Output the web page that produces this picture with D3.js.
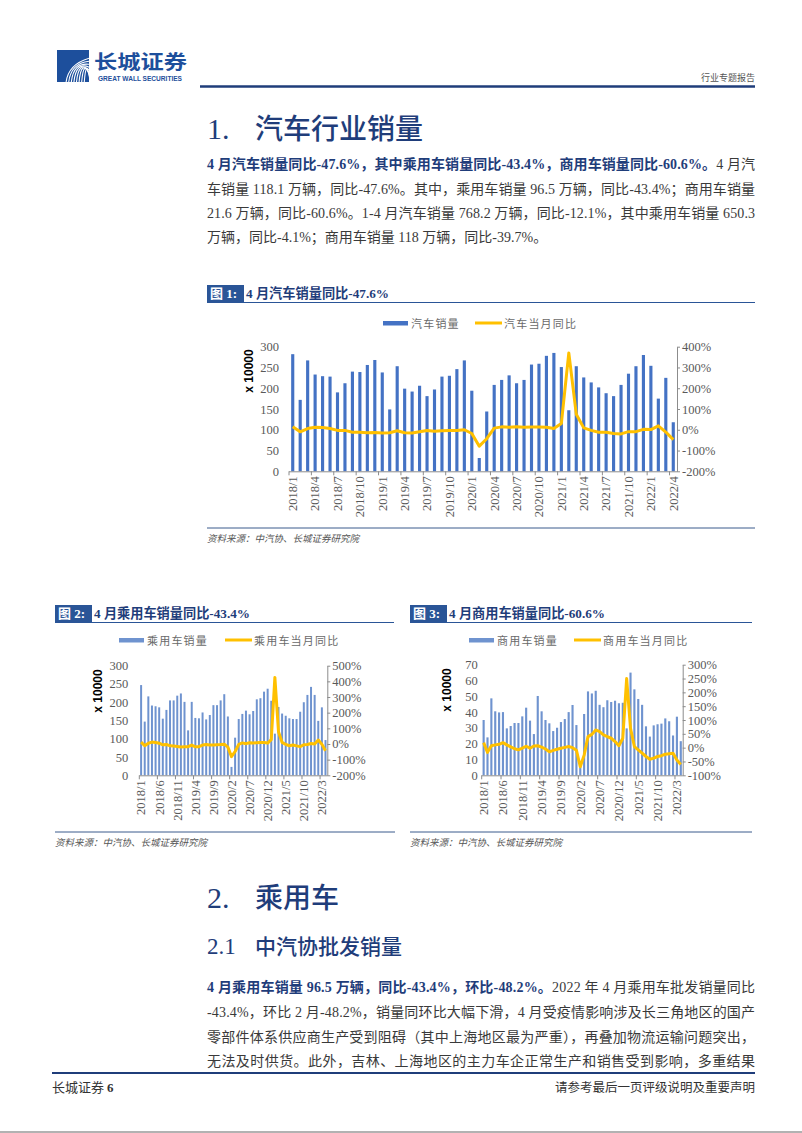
<!DOCTYPE html>
<html><head><meta charset="utf-8">
<script src="https://cdn.jsdelivr.net/npm/d3@7"></script>
<style>body{margin:0;background:#fff;} svg{display:block;}</style>
</head><body>
<svg id="page" width="802" height="1133"></svg>
<script>
// ---------------- DATA ----------------
const months = ["2018/1","2018/2","2018/3","2018/4","2018/5","2018/6","2018/7","2018/8","2018/9","2018/10","2018/11","2018/12",
"2019/1","2019/2","2019/3","2019/4","2019/5","2019/6","2019/7","2019/8","2019/9","2019/10","2019/11","2019/12",
"2020/1","2020/2","2020/3","2020/4","2020/5","2020/6","2020/7","2020/8","2020/9","2020/10","2020/11","2020/12",
"2021/1","2021/2","2021/3","2021/4","2021/5","2021/6","2021/7","2021/8","2021/9","2021/10","2021/11","2021/12",
"2022/1","2022/2","2022/3","2022/4"];
const labels1 = ["2018/1","2018/4","2018/7","2018/10","2019/1","2019/4","2019/7","2019/10","2020/1","2020/4","2020/7","2020/10","2021/1","2021/4","2021/7","2021/10","2022/1","2022/4"];
const labels23 = ["2018/1","2018/6","2018/11","2019/4","2019/9","2020/2","2020/7","2020/12","2021/5","2021/10","2022/3"];

// 汽车销量 (x10000)
const totalSales = [282,172,267,233,229,228,190,212,240,239,256,268,
238,149,253,199,192,206,181,197,228,230,246,267,
194,32,144,208,220,231,212,220,257,259,278,285,
251,147,253,226,214,202,188,181,208,235,253,280,
254,175,225,118.1];
// 汽车当月同比 (%)
const totalYoY = [15,-10,6,12,11,6,-3,-3,-12,-12,-14,-13,
-16,-14,-5,-14,-16,-10,-4,-7,-5,-4,-4,0,
-18,-79,-43,8,14,12,15,12,13,13,12,6,
30,370,75,9,-3,-12,-12,-18,-20,-9,-9,2,
1,19,-11,-47.6];

// 乘用车销量 (x10000)
const pvSales = [247,147,216,191,189,186,155,179,205,205,218,224,
201,123,201,157,156,172,153,165,192,192,205,222,
161,23,103,154,168,177,167,176,208,211,229,237,
204,114,187,169,163,156,154,154,174,200,220,242,
220,149,186,96.5];
// 乘用车当月同比 (%)
const pvYoY = [12,-11,5,12,9,5,-5,-3,-12,-13,-16,-19,
-18,-17,-7,-18,-17,-7,-4,-7,-7,-5,-4,-1,
-20,-81,-48,-2,7,2,8,6,8,10,10,6,
28,425,78,10,-3,-11,-7,-12,-17,-5,-3,3,
0,25,-1,-43.4];

// 商用车销量 (x10000)
const cvSales = [35,24,48.7,40.5,39.8,40,29.7,31.2,33.1,33.1,37.3,42.8,
34.6,26.1,50.2,40.5,35,32.9,28,30.1,33.7,35.6,40,44.5,
31.8,8.6,38.8,53.1,51.8,53.5,44.6,43.1,47.5,46.4,47.2,45.6,
45.9,29.7,65,54.4,48.3,44.6,31,24.5,31.6,32.3,32.7,36,
34.2,25.2,37.1,21.6];
// 商用车当月同比 (%)
const cvYoY = [18,-17,7,10,12,18,10,3,-4,-8,-2,5,
-2,6,7,2,-5,-15,-10,-6,-2,1,4,0,
-9,-69,-27,40,48,64,58,46,40,34,22,7,
34,250,70,4,-8,-20,-32,-42,-38,-32,-29,-24,
-22,-20,-45,-60.6];

const leftTicks1 = [0,50,100,150,200,250,300];
const rightTicks1 = [-200,-100,0,100,200,300,400];
const leftTicks2 = [0,50,100,150,200,250,300];
const rightTicks2 = [-200,-100,0,100,200,300,400,500];
const leftTicks3 = [0,10,20,30,40,50,60,70];
const rightTicks3 = [-100,-50,0,50,100,150,200,250,300];

// ---------------- STYLE ----------------
const svg = d3.select('#page');
const MIX = '"Liberation Serif","Noto Sans CJK SC",serif';
const CJK = '"Noto Sans CJK SC",sans-serif';
const NAVY = '#1f3d7a';
const BOXBLUE = '#2a5597';
const YELLOW = '#FFC000';
const TEXT = '#3a3a3a';

// ---------------- HEADER ----------------
const logo = svg.append('g');
logo.append('clipPath').attr('id','lc').append('rect').attr('x',57).attr('y',50).attr('width',32).attr('height',32);
logo.append('rect').attr('x',57).attr('y',50).attr('width',32).attr('height',32).attr('fill','#1d4f9c');
const lg = logo.append('g').attr('clip-path','url(#lc)');
d3.range(8).forEach(i=>{
  lg.append('path')
    .attr('d',`M${66+i*2.6},83 Q${68+i*2.6},${64-i*1.2} ${90},${58+i*3.2}`)
    .attr('fill','none').attr('stroke','#fff').attr('stroke-width',1.1);
});
svg.append('text').attr('x',94).attr('y',69).attr('font-family',CJK).attr('font-weight',700)
  .attr('font-size',19).attr('fill','#1d4f9c').attr('textLength',93).attr('lengthAdjust','spacingAndGlyphs').text('长城证券');
svg.append('text').attr('x',98).attr('y',81).attr('font-family','"Liberation Sans",sans-serif').attr('font-weight',700)
  .attr('font-size',6.5).attr('fill','#1d4f9c').attr('textLength',84).attr('lengthAdjust','spacingAndGlyphs').text('GREAT WALL SECURITIES');
svg.append('text').attr('x',755).attr('y',81).attr('text-anchor','end').attr('font-family',CJK)
  .attr('font-size',9).attr('fill','#555').text('行业专题报告');
svg.append('line').attr('x1',200).attr('x2',755).attr('y1',86.5).attr('y2',86.5).attr('stroke',NAVY).attr('stroke-width',2.5);

// ---------------- TEXT HELPERS ----------------
function heading(num, title, y, size){
  svg.append('text').attr('x',207).attr('y',y).attr('font-family','"Liberation Serif",serif')
    .attr('font-size',size+2).attr('fill',NAVY).text(num);
  svg.append('text').attr('x',255).attr('y',y).attr('font-family',CJK).attr('font-weight',500)
    .attr('font-size',size).attr('fill',NAVY).text(title);
}
function line(y, parts, justify){
  const t = svg.append('text').attr('x',207).attr('y',y).attr('font-family',MIX).attr('font-size',14).attr('fill',TEXT);
  if (justify) t.attr('textLength',548).attr('lengthAdjust','spacing');
  parts.forEach(p=>{
    const s = t.append('tspan').text(p.t);
    if (p.b) s.attr('font-weight',700).attr('fill',NAVY);
  });
}
function figTitle(x, x2, y, num, title, tl){
  svg.append('rect').attr('x',x).attr('y',y-13).attr('width',37).attr('height',17).attr('fill',BOXBLUE);
  svg.append('text').attr('x',x+3).attr('y',y).attr('font-family',MIX).attr('font-weight',700)
    .attr('font-size',13).attr('fill','#fff').text(num);
  svg.append('text').attr('x',x+39).attr('y',y).attr('font-family',MIX).attr('font-weight',700)
    .attr('font-size',13.5).attr('fill',NAVY).attr('textLength',tl).attr('lengthAdjust','spacingAndGlyphs').text(title);
  svg.append('line').attr('x1',x).attr('x2',x2).attr('y1',y+4.5).attr('y2',y+4.5).attr('stroke',BOXBLUE).attr('stroke-width',1);
}
function source(x, x2, y){
  svg.append('line').attr('x1',x).attr('x2',x2).attr('y1',y).attr('y2',y).attr('stroke','#3b5b8c').attr('stroke-width',1);
  svg.append('text').attr('x',x).attr('y',y+14).attr('font-family',CJK).attr('font-style','italic')
    .attr('font-size',9.5).attr('fill','#555').text('资料来源：中汽协、长城证券研究院');
}

// ---------------- SECTION 1 ----------------
heading('1.', '汽车行业销量', 139, 28);
line(169, [{t:'4 月汽车销量同比-47.6%，其中乘用车销量同比-43.4%，商用车销量同比-60.6%。',b:true},{t:'4 月汽'}], true);
line(194, [{t:'车销量 118.1 万辆，同比-47.6%。其中，乘用车销量 96.5 万辆，同比-43.4%；商用车销量'}], true);
line(218, [{t:'21.6 万辆，同比-60.6%。1-4 月汽车销量 768.2 万辆，同比-12.1%，其中乘用车销量 650.3'}], true);
line(242, [{t:'万辆，同比-4.1%；商用车销量 118 万辆，同比-39.7%。'}], false);

figTitle(207, 755, 298, '图 1:', '4 月汽车销量同比-47.6%', 143);
source(207, 755, 528);
figTitle(55, 394, 618, '图 2:', '4 月乘用车销量同比-43.4%', 156);
figTitle(410, 752, 618, '图 3:', '4 月商用车销量同比-60.6%', 156);
source(55, 395, 832);
source(410, 752, 832);

// ---------------- CHARTS ----------------
function drawChart(c){
  const g = svg.append('g');
  const x = d3.scaleBand().domain(months).range([c.left, c.right]).paddingInner(c.pad).paddingOuter(c.pad/2);
  const step = x.step();
  const yL = d3.scaleLinear().domain(c.lDom).range([c.bottom, c.top]);
  const yR = d3.scaleLinear().domain(c.rDom).range([c.bottom, c.top]);

  // bars
  g.append('g').selectAll('rect').data(c.bars).join('rect')
    .attr('x',(d,i)=>x(months[i])).attr('width',x.bandwidth())
    .attr('y',d=>yL(d)).attr('height',d=>yL(0)-yL(d)).attr('fill',c.barColor);

  // left axis (labels only)
  const la = g.append('g').attr('transform',`translate(${c.left},0)`)
    .call(d3.axisLeft(yL).tickValues(c.lTicks).tickSize(0).tickPadding(c.lPad));
  la.select('.domain').remove();
  la.selectAll('text').attr('font-family','"Liberation Serif",serif').attr('font-size',c.fs).attr('fill','#595959');

  // right axis
  const ra = g.append('g').attr('transform',`translate(${c.right},0)`)
    .call(d3.axisRight(yR).tickValues(c.rTicks).tickSize(3).tickSizeOuter(0).tickPadding(2).tickFormat(d=>d+'%'));
  ra.select('.domain').attr('stroke','#8c8c8c');
  ra.selectAll('line').attr('stroke','#8c8c8c');
  ra.selectAll('text').attr('font-family','"Liberation Serif",serif').attr('font-size',c.fs).attr('fill','#595959');

  // bottom axis
  const ba = g.append('g').attr('transform',`translate(0,${c.bottom})`)
    .call(d3.axisBottom(x).tickValues(c.xLabels).tickSize(0).tickPadding(0));
  ba.select('.domain').attr('stroke','#8c8c8c').attr('d',`M${c.left},0.5H${c.right}`);
  ba.selectAll('text').attr('font-family','"Liberation Serif",serif').attr('font-size',c.fs).attr('fill','#595959')
    .attr('transform','rotate(-90)').attr('x',-5).attr('y',0).attr('dy','0.35em').style('text-anchor','end');
  ba.append('g').selectAll('line').data(c.xLabels).join('line')
    .attr('x1',d=>x(d)-(step-x.bandwidth())/2).attr('x2',d=>x(d)-(step-x.bandwidth())/2)
    .attr('y1',0).attr('y2',4).attr('stroke','#8c8c8c');

  // line
  g.append('path').datum(c.line)
    .attr('d', d3.line().x((d,i)=>x(months[i])+x.bandwidth()/2).y(d=>yR(d)))
    .attr('fill','none').attr('stroke',YELLOW).attr('stroke-width',c.lw).attr('stroke-linejoin','round');

  // y label
  g.append('text').attr('transform',`translate(${c.ylabX},${c.ylabY}) rotate(-90)`)
    .attr('text-anchor','middle').attr('dominant-baseline','central')
    .attr('font-family','"Liberation Sans",sans-serif').attr('font-weight',700).attr('font-size',12).attr('fill','#000')
    .text('x 10000');

  // legend
  const L = c.legend;
  g.append('rect').attr('x',L.rx).attr('y',L.y-2).attr('width',25).attr('height',4.5).attr('fill',c.barColor);
  g.append('text').attr('x',L.rx+28).attr('y',L.y).attr('dominant-baseline','central').attr('font-family',CJK)
    .attr('font-size',11).attr('letter-spacing',1.2).attr('fill','#6a6a6a').text(L.t1);
  g.append('line').attr('x1',L.lx).attr('x2',L.lx+27).attr('y1',L.y).attr('y2',L.y).attr('stroke',YELLOW).attr('stroke-width',3);
  g.append('text').attr('x',L.lx+29).attr('y',L.y).attr('dominant-baseline','central').attr('font-family',CJK)
    .attr('font-size',11).attr('letter-spacing',1.2).attr('fill','#6a6a6a').text(L.t2);
}

drawChart({left:289, right:677, top:346.7, bottom:471.3, pad:0.58,
  bars:totalSales, line:totalYoY, lDom:[0,300], rDom:[-200,400], lTicks:leftTicks1, rTicks:rightTicks1,
  xLabels:labels1, fs:12.5, lPad:10, lw:3, barColor:'#4472c4', ylabX:249, ylabY:371,
  legend:{y:323, rx:383, lx:475, t1:'汽车销量', t2:'汽车当月同比'}});

drawChart({left:139.3, right:327.3, top:665.7, bottom:775.3, pad:0.45,
  bars:pvSales, line:pvYoY, lDom:[0,300], rDom:[-200,500], lTicks:leftTicks2, rTicks:rightTicks2,
  xLabels:labels23, fs:12.5, lPad:11, lw:3, barColor:'#6f93cf', ylabX:98, ylabY:691,
  legend:{y:640, rx:119, lx:225, t1:'乘用车销量', t2:'乘用车当月同比'}});

drawChart({left:481.7, right:682.7, top:664.7, bottom:775.3, pad:0.45,
  bars:cvSales, line:cvYoY, lDom:[0,70], rDom:[-100,300], lTicks:leftTicks3, rTicks:rightTicks3,
  xLabels:labels23, fs:12.5, lPad:4, lw:3, barColor:'#6f93cf', ylabX:447, ylabY:690,
  legend:{y:640, rx:469, lx:574, t1:'商用车销量', t2:'商用车当月同比'}});

// ---------------- SECTION 2 ----------------
heading('2.', '乘用车', 908, 28);
heading('2.1', '中汽协批发销量', 954, 21);
line(992, [{t:'4 月乘用车销量 96.5 万辆，同比-43.4%，环比-48.2%。',b:true},{t:'2022 年 4 月乘用车批发销量同比'}], true);
line(1017, [{t:'-43.4%，环比 2 月-48.2%，销量同环比大幅下滑，4 月受疫情影响涉及长三角地区的国产'}], true);
line(1042, [{t:'零部件体系供应商生产受到阻碍（其中上海地区最为严重），再叠加物流运输问题突出，'}], true);
line(1066, [{t:'无法及时供货。此外，吉林、上海地区的主力车企正常生产和销售受到影响，多重结果'}], true);

// ---------------- FOOTER ----------------
svg.append('line').attr('x1',52).attr('x2',755).attr('y1',1073).attr('y2',1073).attr('stroke',NAVY).attr('stroke-width',2);
svg.append('text').attr('x',52).attr('y',1092).attr('font-family',MIX).attr('font-size',13).attr('fill','#333').text('长城证券 ');
svg.append('text').attr('x',107).attr('y',1092).attr('font-family',MIX).attr('font-weight',700).attr('font-size',13).attr('fill','#333').text('6');
svg.append('text').attr('x',755).attr('y',1092).attr('text-anchor','end').attr('font-family',CJK).attr('font-size',12.5).attr('fill','#333').text('请参考最后一页评级说明及重要声明');
svg.append('line').attr('x1',0).attr('x2',802).attr('y1',1132).attr('y2',1132).attr('stroke','#999').attr('stroke-width',1.5);
</script>
</body></html>
